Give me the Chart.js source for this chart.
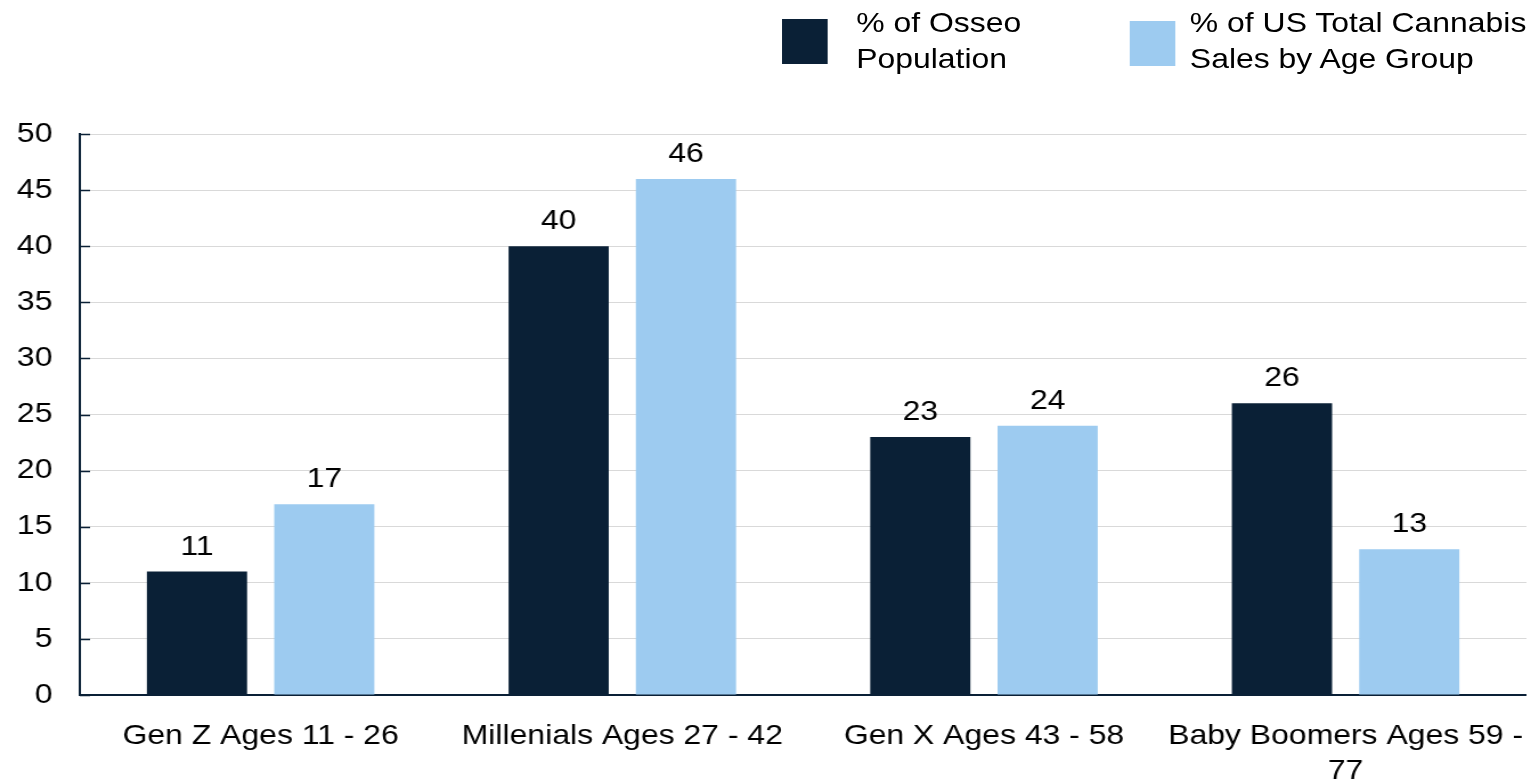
<!DOCTYPE html>
<html>
<head>
<meta charset="utf-8">
<script src="https://cdn.jsdelivr.net/npm/chart.js@4/dist/chart.umd.min.js"></script>
<style>
    html, body { margin: 0; padding: 0; background: #fff; overflow: hidden; }
    /* the reference is a bit wider than tall, so the drawing is stretched sideways */
    #wrap { position: relative; width: 1348px; height: 783px; overflow: hidden; transform: scaleX(1.14); transform-origin: 0 0; }
    #legend { position: absolute; top: 5px; left: 686px; display: flex; font-family: "Liberation Sans", Arial, sans-serif; font-size: 28px; line-height: 36px; color: #000; }
    .item { display: flex; align-items: center; }
    .box { width: 40px; height: 45px; margin-right: 25px; }
</style>
</head>
<body>
<div id="wrap">
    <canvas id="chart" width="1360" height="783"></canvas>
    <div id="legend"></div>
</div>
<script>
const categories = [
    'Gen Z Ages 11 - 26',
    'Millenials Ages 27 - 42',
    'Gen X Ages 43 - 58',
    ['Baby Boomers Ages 59 -', '77']
];
const seriesNames = [
    ['% of Osseo', 'Population'],
    ['% of US Total Cannabis', 'Sales by Age Group']
];
const osseoPop = [11, 40, 23, 26];
const usSales = [17, 46, 24, 13];
const yTicks = [0, 5, 10, 15, 20, 25, 30, 35, 40, 45, 50];

const colors = ['#0a2036', '#9dcbf0'];
const font = "'Liberation Sans', Arial, sans-serif";

// value labels over the bars
const valueLabels = {
    id: 'valueLabels',
    afterDatasetsDraw(chart) {
        const ctx = chart.ctx;
        ctx.save();
        ctx.font = '28px ' + font;
        ctx.fillStyle = '#000';
        ctx.textAlign = 'center';
        ctx.textBaseline = 'alphabetic';
        chart.data.datasets.forEach(function (ds, i) {
            chart.getDatasetMeta(i).data.forEach(function (bar, j) {
                ctx.fillText(ds.data[j], bar.x, bar.y - 17);
            });
        });
        ctx.restore();
    }
};

// small tick marks pointing into the plot
const innerTicks = {
    id: 'innerTicks',
    afterDraw(chart) {
        const ctx = chart.ctx;
        const y = chart.scales.y;
        ctx.save();
        ctx.strokeStyle = '#0a2036';
        ctx.lineWidth = 1.5;
        yTicks.forEach(function (v) {
            const py = Math.round(y.getPixelForValue(v)) + 0.5;
            ctx.beginPath();
            ctx.moveTo(y.right, py);
            ctx.lineTo(y.right + 9, py);
            ctx.stroke();
        });
        ctx.restore();
    }
};

new Chart(document.getElementById('chart').getContext('2d'), {
    type: 'bar',
    data: {
        labels: categories,
        datasets: [
            { label: seriesNames[0].join(' '), data: osseoPop, backgroundColor: colors[0] },
            { label: seriesNames[1].join(' '), data: usSales, backgroundColor: colors[1] }
        ]
    },
    options: {
        responsive: false,
        animation: false,
        categoryPercentage: 0.704,
        barPercentage: 0.787,
        layout: { autoPadding: false, padding: { top: 134, right: 0, left: 0, bottom: 0 } },
        plugins: {
            legend: { display: false },
            tooltip: { enabled: false }
        },
        scales: {
            x: {
                afterFit: function (axis) { axis.height = 88; },
                grid: { display: false, drawTicks: false },
                border: { color: '#0a2036', width: 2 },
                ticks: { color: '#000', font: { family: font, size: 28, lineHeight: 1.25 }, padding: 24, maxRotation: 0, autoSkip: false }
            },
            y: {
                min: 0,
                max: 50,
                afterBuildTicks: function (axis) {
                    axis.ticks = yTicks.map(function (v) { return { value: v }; });
                },
                afterFit: function (axis) { axis.width = 70; },
                grid: { color: '#d9d9d9', lineWidth: 1, drawTicks: false },
                border: { color: '#0a2036', width: 2 },
                ticks: { color: '#000', font: { family: font, size: 28 }, padding: 24 }
            }
        }
    },
    plugins: [valueLabels, innerTicks]
});

// html legend with wrapped labels
const legend = document.getElementById('legend');
seriesNames.forEach(function (name, i) {
    const item = document.createElement('div');
    item.className = 'item';
    const box = document.createElement('div');
    box.className = 'box';
    box.style.background = colors[i];
    if (i > 0) {
        item.style.marginLeft = '95px';
        box.style.marginTop = '4px';
        box.style.marginRight = '13px';
    }
    const txt = document.createElement('div');
    txt.innerHTML = name.join('<br>');
    item.appendChild(box);
    item.appendChild(txt);
    legend.appendChild(item);
});
</script>
</body>
</html>
